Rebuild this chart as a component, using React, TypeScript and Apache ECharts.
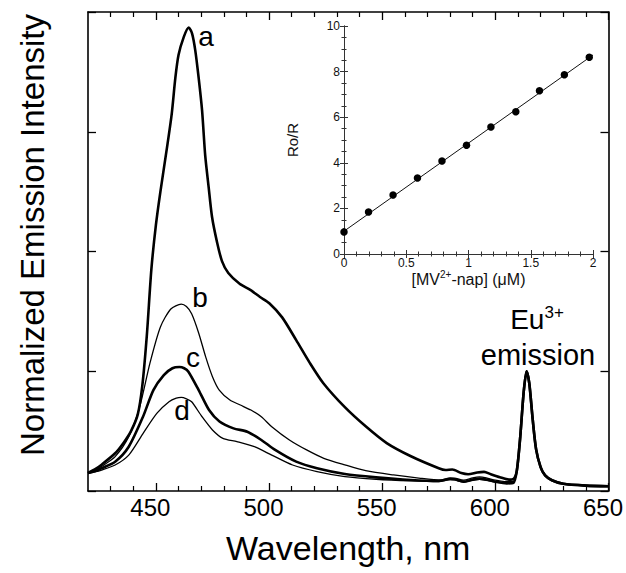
import React, { useEffect, useRef } from 'react';
import * as echarts from 'echarts';

const FONT = '"Liberation Sans", Arial, Helvetica, sans-serif';

// Main spectra: [wavelength nm, normalized intensity]
const curveA: [number, number][] = [
  [420, 0.15], [423, 0.18], [426, 0.22], [432, 0.315], [436, 0.41], [439, 0.5], [442, 0.64],
  [444, 0.88], [446, 1.3], [448, 1.85], [450, 2.22], [452, 2.5], [455, 2.88],
  [457, 3.15], [458.6, 3.45], [460, 3.64], [462.3, 3.79], [464.5, 3.87], [466, 3.82], [467.4, 3.68],
  [468.9, 3.45], [470.4, 3.18], [471.8, 2.8], [473.3, 2.54], [474.8, 2.29], [477, 2.08], [479.2, 1.92],
  [482, 1.82], [487, 1.73], [491.7, 1.68], [496, 1.62], [500, 1.57], [505.8, 1.45], [512, 1.26],
  [518, 1.07], [524, 0.9], [533.5, 0.7], [542.7, 0.54], [552, 0.4], [562.7, 0.29], [575, 0.19],
  [578, 0.175], [581, 0.18], [585, 0.15], [588, 0.14], [592, 0.155], [595, 0.16], [598, 0.14],
  [602, 0.115], [606, 0.095], [608, 0.1],
];
const curveB: [number, number][] = [
  [420, 0.15], [423, 0.17], [426, 0.205], [432, 0.287], [438, 0.453], [442.8, 0.7], [447.4, 1.07],
  [452, 1.37], [456.6, 1.52], [461.2, 1.56], [463.5, 1.54], [465.8, 1.48], [468.9, 1.32], [472, 1.12],
  [475, 0.955], [478, 0.843], [482.7, 0.76], [487.3, 0.718], [492, 0.676], [496.6, 0.62], [501.2, 0.537],
  [509, 0.426], [516.6, 0.343], [524.2, 0.273], [533.5, 0.218], [542.7, 0.17], [555, 0.134],
  [567, 0.106], [576, 0.092], [580, 0.11], [582, 0.108], [586, 0.09], [590, 0.11], [593, 0.118],
  [596, 0.11], [600, 0.09], [604, 0.078], [608, 0.08],
];
const curveC: [number, number][] = [
  [420, 0.15], [423, 0.165], [426, 0.19], [432, 0.245], [438, 0.37], [444.3, 0.62], [448.9, 0.843],
  [453.5, 0.968], [457.3, 1.025], [460.4, 1.035], [462.5, 1.025], [464.3, 0.998], [468.9, 0.843],
  [473.5, 0.676], [478.1, 0.58], [484.3, 0.523], [490.4, 0.495], [496.6, 0.426], [502.7, 0.343],
  [512, 0.245], [521.2, 0.19], [533.5, 0.142], [547.3, 0.114], [562.7, 0.092], [575, 0.084],
  [580, 0.1], [582, 0.098], [586, 0.078], [590, 0.095], [593, 0.103], [596, 0.095], [600, 0.078],
  [605, 0.064], [608, 0.068],
];
const curveD: [number, number][] = [
  [420, 0.15], [423, 0.16], [426, 0.175], [432, 0.217], [438, 0.3], [444.3, 0.48], [450.4, 0.648],
  [455.8, 0.745], [459, 0.775], [461.2, 0.782], [463.5, 0.77], [465.8, 0.745], [470.4, 0.62],
  [475, 0.51], [479.6, 0.44], [485.8, 0.412], [493.5, 0.37], [501.2, 0.3], [510.4, 0.217],
  [521.2, 0.162], [533.5, 0.12], [547.3, 0.098], [562.7, 0.084], [575, 0.078], [580, 0.095],
  [582, 0.093], [586, 0.075], [590, 0.09], [593, 0.098], [596, 0.09], [600, 0.075], [605, 0.064],
  [608, 0.068],
];
// Eu3+ emission band shared by all spectra
const euPeak: [number, number][] = [
  [609.5, 0.17], [611, 0.45], [612.5, 0.82], [613.8, 1.0], [615, 0.9], [616.5, 0.6], [618, 0.35],
  [620, 0.2], [622, 0.13], [625, 0.09], [630, 0.06], [640, 0.045], [650, 0.04],
];

const majorTicks = [450, 500, 550, 600, 650];
const minorTicks = [430, 440, 460, 470, 480, 490, 510, 520, 530, 540, 560, 570, 580, 590, 610, 620, 630, 640];

// Inset: Stern-Volmer data
const insetX = [0, 0.197, 0.394, 0.59, 0.787, 0.984, 1.18, 1.38, 1.57, 1.77, 1.97];
const insetY = [0.97, 1.84, 2.59, 3.33, 4.08, 4.77, 5.57, 6.24, 7.16, 7.86, 8.63];
const fitLine: [number, number][] = [[0, 1.0], [2, 8.73]];

function buildOption(): echarts.EChartsOption {
  const black = '#000';
  const insetColor = '#333';
  const mainLine = { show: true, lineStyle: { color: black, width: 1.6 } };
  const insetLine = { show: true, lineStyle: { color: insetColor, width: 1 } };
  const noLabel = { show: false };
  const noSplit = { show: false };
  const txt = (text: string, x: number, y: number, size: number) => ({
    type: 'text', x, y,
    style: {
      text, fontSize: size, fontFamily: FONT, fill: black,
      align: 'center', verticalAlign: 'middle', textAlign: 'center', textVerticalAlign: 'middle',
    },
  });

  return {
    animation: false,
    backgroundColor: '#fff',
    grid: [
      { left: 88, top: 12, width: 521, height: 479, containLabel: false },
      { left: 344, top: 26, width: 249, height: 228, containLabel: false },
    ],
    xAxis: [
      {
        type: 'value', gridIndex: 0, position: 'bottom', min: 420, max: 650,
        axisLine: mainLine,
        axisTick: { show: true, inside: true, length: 8, customValues: majorTicks, lineStyle: { color: black, width: 1.3 } },
        axisLabel: { show: true, customValues: majorTicks, fontSize: 24, color: black, fontFamily: FONT, margin: 4, padding: [0, 11, 0, 0] },
        splitLine: noSplit,
        name: 'Wavelength, nm', nameLocation: 'middle', nameGap: 40,
        nameTextStyle: { fontSize: 34, color: black, fontFamily: FONT },
      },
      {
        type: 'value', gridIndex: 0, position: 'bottom', min: 420, max: 650,
        axisLine: { show: false },
        axisTick: { show: true, inside: true, length: 5, customValues: minorTicks, lineStyle: { color: black, width: 1.2 } },
        axisLabel: noLabel, splitLine: noSplit,
      },
      {
        type: 'value', gridIndex: 0, position: 'top', min: 420, max: 650,
        axisLine: mainLine,
        axisTick: { show: true, inside: true, length: 8, customValues: majorTicks, lineStyle: { color: black, width: 1.3 } },
        axisLabel: noLabel, splitLine: noSplit,
      },
      {
        type: 'value', gridIndex: 0, position: 'top', min: 420, max: 650,
        axisLine: { show: false },
        axisTick: { show: true, inside: true, length: 5, customValues: minorTicks, lineStyle: { color: black, width: 1.2 } },
        axisLabel: noLabel, splitLine: noSplit,
      },
      {
        type: 'value', gridIndex: 1, position: 'bottom', min: 0, max: 2, interval: 0.5,
        axisLine: insetLine,
        axisTick: { show: true, inside: true, length: 4, lineStyle: { color: insetColor } },
        minorTick: { show: true, splitNumber: 5, length: 2.5, lineStyle: { color: insetColor } },
        axisLabel: { show: true, fontSize: 12, color: '#111', fontFamily: FONT, margin: 3 },
        splitLine: noSplit, minorSplitLine: { show: false },
        name: '{n|[MV}{s|2+}{n|-nap] (\u03bcM)}', nameLocation: 'middle', nameGap: 15,
        nameTextStyle: {
          fontFamily: FONT, color: '#111',
          rich: {
            n: { fontSize: 16, fontFamily: FONT, color: '#111', lineHeight: 19 },
            s: { fontSize: 10, fontFamily: FONT, color: '#111', verticalAlign: 'top', lineHeight: 19 },
          },
        },
      },
      {
        type: 'value', gridIndex: 1, position: 'top', min: 0, max: 2, interval: 0.5,
        axisLine: insetLine,
        axisTick: { show: true, inside: true, length: 4, lineStyle: { color: insetColor } },
        minorTick: { show: true, splitNumber: 5, length: 2.5, lineStyle: { color: insetColor } },
        axisLabel: noLabel, splitLine: noSplit,
      },
    ],
    yAxis: [
      {
        type: 'value', gridIndex: 0, position: 'left', min: 0, max: 4, interval: 1,
        axisLine: mainLine,
        axisTick: { show: true, inside: true, length: 8, lineStyle: { color: black, width: 1.3 } },
        axisLabel: noLabel, splitLine: noSplit,
      },
      {
        type: 'value', gridIndex: 0, position: 'right', min: 0, max: 4, interval: 1,
        axisLine: mainLine,
        axisTick: { show: true, inside: true, length: 8, lineStyle: { color: black, width: 1.3 } },
        axisLabel: noLabel, splitLine: noSplit,
      },
      {
        type: 'value', gridIndex: 1, position: 'left', min: 0, max: 10, interval: 2,
        axisLine: insetLine,
        axisTick: { show: true, inside: true, length: 4, lineStyle: { color: insetColor } },
        minorTick: { show: true, splitNumber: 4, length: 2.5, lineStyle: { color: insetColor } },
        axisLabel: { show: true, fontSize: 12, color: '#111', fontFamily: FONT, margin: 4 },
        splitLine: noSplit,
        name: 'Ro/R', nameLocation: 'middle', nameGap: 44,
        nameTextStyle: { fontSize: 15, color: '#111', fontFamily: FONT },
      },
      {
        type: 'value', gridIndex: 1, position: 'right', min: 0, max: 10, interval: 2,
        axisLine: insetLine,
        axisTick: { show: true, inside: true, length: 4, lineStyle: { color: insetColor } },
        minorTick: { show: true, splitNumber: 4, length: 2.5, lineStyle: { color: insetColor } },
        axisLabel: noLabel, splitLine: noSplit,
      },
    ],
    series: [
      {
        name: 'd', type: 'line', xAxisIndex: 0, yAxisIndex: 0, data: curveD.concat(euPeak),
        showSymbol: false, smooth: 0.25, lineStyle: { color: black, width: 1.3 }, z: 2,
      },
      {
        name: 'b', type: 'line', xAxisIndex: 0, yAxisIndex: 0, data: curveB.concat(euPeak),
        showSymbol: false, smooth: 0.25, lineStyle: { color: black, width: 1.3 }, z: 2,
      },
      {
        name: 'c', type: 'line', xAxisIndex: 0, yAxisIndex: 0, data: curveC.concat(euPeak),
        showSymbol: false, smooth: 0.25, lineStyle: { color: black, width: 2.6 }, z: 3,
      },
      {
        name: 'a', type: 'line', xAxisIndex: 0, yAxisIndex: 0, data: curveA.concat(euPeak),
        showSymbol: false, smooth: 0.25, lineStyle: { color: black, width: 2.6 }, z: 3,
      },
      {
        name: 'fit', type: 'line', xAxisIndex: 4, yAxisIndex: 2, data: fitLine,
        showSymbol: false, lineStyle: { color: '#111', width: 1 }, z: 4,
      },
      {
        name: 'Ro/R', type: 'scatter', xAxisIndex: 4, yAxisIndex: 2,
        data: insetX.map((x, i) => [x, insetY[i]]),
        symbol: 'circle', symbolSize: 7.5, itemStyle: { color: '#000', opacity: 1 }, z: 5,
      },
    ],
    graphic: [
      {
        type: 'text', x: 32, y: 235, rotation: Math.PI / 2,
        style: {
          text: 'Normalized Emission Intensity', fontSize: 33, fontFamily: FONT, fill: black,
          align: 'center', verticalAlign: 'middle', textAlign: 'center', textVerticalAlign: 'middle',
        },
      },
      txt('a', 206, 36, 28),
      txt('b', 200, 297, 28),
      txt('c', 193, 357, 28),
      txt('d', 182, 410, 28),
      {
        type: 'text', x: 537, y: 319,
        style: {
          text: '{b|Eu}{s|3+}', fontFamily: FONT, fill: black,
          align: 'center', verticalAlign: 'middle', textAlign: 'center', textVerticalAlign: 'middle',
          rich: {
            b: { fontSize: 28, fontFamily: FONT, fill: black, lineHeight: 31 },
            s: { fontSize: 17, fontFamily: FONT, fill: black, verticalAlign: 'top', lineHeight: 31 },
          },
        },
      },
      txt('emission', 538, 355, 29),
    ],
  } as any;
}

export default function App() {
  const ref = useRef<HTMLDivElement>(null);
  useEffect(() => {
    if (!ref.current) return;
    const chart = echarts.init(ref.current, null, { renderer: 'svg' });
    chart.setOption(buildOption());
    return () => {
      chart.dispose();
    };
  }, []);
  return (
    <div
      ref={ref}
      style={{ position: 'absolute', left: 0, top: 0, width: 626, height: 573, background: '#fff' }}
    />
  );
}
